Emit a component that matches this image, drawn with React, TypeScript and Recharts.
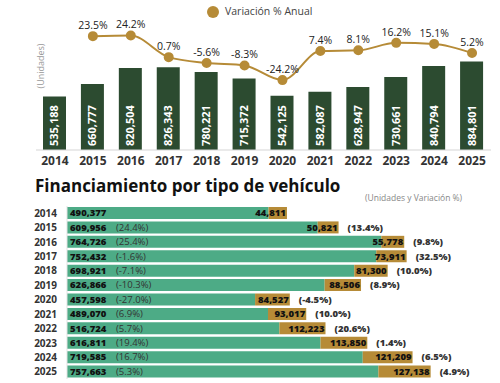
import React from 'react';
import { ComposedChart, BarChart, Bar, Line, XAxis, YAxis, LabelList } from 'recharts';

const years = ['2014', '2015', '2016', '2017', '2018', '2019', '2020', '2021', '2022', '2023', '2024', '2025'];
const totalUnits = [535188, 660777, 820504, 826343, 780221, 715372, 542125, 582087, 628947, 730661, 840794, 884801];
const totalVar = [null, 23.5, 24.2, 0.7, -5.6, -8.3, -24.2, 7.4, 8.1, 16.2, 15.1, 5.2];

const autos = [490377, 609956, 764726, 752432, 698921, 626866, 457598, 489070, 516724, 616811, 719585, 757663];
const autosVar = [null, '24.4%', '25.4%', '-1.6%', '-7.1%', '-10.3%', '-27.0%', '6.9%', '5.7%', '19.4%', '16.7%', '5.3%'];
const pesados = [44811, 50821, 55778, 73911, 81300, 88506, 84527, 93017, 112223, 113850, 121209, 127138];
const pesadosVar = [null, '13.4%', '9.8%', '32.5%', '10.0%', '8.9%', '-4.5%', '10.0%', '20.6%', '1.4%', '6.5%', '4.9%'];

const DARK = '#2c4b30';
const GREEN = '#4dab86';
const GOLD = '#b68b37';
const FONT = '"Open Sans", sans-serif';

const topData = years.map((y, i) => ({ year: y, units: totalUnits[i], pct: totalVar[i] }));
const bottomData = years.map((y, i) => ({
    year: y,
    autos: autos[i],
    autosVar: autosVar[i],
    pesados: pesados[i],
    pesadosVar: pesadosVar[i],
}));

const fmt = (v: number) => v.toLocaleString('en-US');

// value written vertically inside each column
const ColumnLabel = (props: any) => {
    const { x, y, width, height, value } = props;
    const cx = x + width / 2;
    const by = y + height - 4;
    return (
        <text x={cx} y={by} transform={`rotate(-90 ${cx} ${by})`} dy="0.36em" fill="#fff"
            fontSize={11} fontWeight={700} fontFamily={FONT} textAnchor="start">
            {fmt(value)}
        </text>
    );
};

const PctLabel = (props: any) => {
    const { x, y, value } = props;
    if (value === null || value === undefined) return null;
    return (
        <text x={x} y={y - 7} fill="#222" fontSize={10.5} fontFamily={FONT} textAnchor="middle">
            {value.toFixed(1)}%
        </text>
    );
};

const AutoLabel = (props: any) => {
    const { x, y, height, index } = props;
    const cy = y + height / 2;
    return (
        <g fontFamily={FONT} fontSize={9.5}>
            <text x={x + 3} y={cy} dy="0.35em" fill="#111" fontWeight={800}>{fmt(autos[index])}</text>
            {autosVar[index] && (
                <text x={116} y={cy} dy="0.35em" fill="#333">({autosVar[index]})</text>
            )}
        </g>
    );
};

const PesadoLabel = (props: any) => {
    const { x, y, width, height, index } = props;
    const cy = y + height / 2;
    const end = x + width;
    return (
        <g fontFamily={FONT} fontSize={9.5} fontWeight={800}>
            <text x={end - 1} y={cy} dy="0.35em" fill="#111" textAnchor="end">{fmt(pesados[index])}</text>
            {pesadosVar[index] && (
                <text x={end + 9} y={cy} dy="0.35em" fill="#333">({pesadosVar[index]})</text>
            )}
        </g>
    );
};

export default function App() {
    return (
        <div style={{ position: 'absolute', left: 0, top: 0, width: 500, height: 383, background: '#fff', fontFamily: FONT, overflow: 'hidden' }}>
            {/* legend */}
            <div style={{ position: 'absolute', left: 207, top: 6, width: 12, height: 12, borderRadius: 6, background: GOLD }} />
            <div style={{ position: 'absolute', left: 225, top: 4, fontSize: 10.5, color: '#444' }}>Variación % Anual</div>
            <div style={{ position: 'absolute', left: 40, top: 66, fontSize: 9, color: '#999', transform: 'translate(-50%, -50%) rotate(-90deg)', whiteSpace: 'nowrap' }}>
                (Unidades)
            </div>

            <div style={{ position: 'absolute', left: 0, top: 0 }}>
                <ComposedChart width={500} height={170} data={topData} margin={{ top: 20, right: 9, left: 36, bottom: 0 }}>
                    <XAxis dataKey="year" height={20} tickLine={false} tickMargin={0} axisLine={{ stroke: '#d5d5d5' }}
                        tick={{ fontSize: 12, fontWeight: 700, fill: '#333', fontFamily: FONT }} interval={0} />
                    <YAxis yAxisId="u" hide domain={[0, 1300000]} />
                    <YAxis yAxisId="p" hide domain={[-100, 41]} orientation="right" />
                    <Bar yAxisId="u" dataKey="units" fill={DARK} barSize={23} isAnimationActive={false}>
                        <LabelList dataKey="units" content={ColumnLabel} />
                    </Bar>
                    <Line yAxisId="p" dataKey="pct" type="monotone" stroke={GOLD} strokeWidth={2}
                        dot={{ r: 4, fill: GOLD, stroke: GOLD }} isAnimationActive={false}>
                        <LabelList dataKey="pct" content={PctLabel} />
                    </Line>
                </ComposedChart>
            </div>

            <div style={{ position: 'absolute', left: 35, top: 174, fontSize: 17, fontWeight: 700, color: '#111', whiteSpace: 'nowrap' }}>
                Financiamiento por tipo de vehículo
            </div>
            <div style={{ position: 'absolute', left: 365, top: 192, fontSize: 8.5, color: '#888', whiteSpace: 'nowrap' }}>
                (Unidades y Variación %)
            </div>

            <div style={{ position: 'absolute', left: 0, top: 200 }}>
                <BarChart width={500} height={183} data={bottomData} layout="vertical" barCategoryGap={1}
                    margin={{ top: 6, right: 22, left: 0, bottom: 4 }}>
                    <XAxis type="number" hide domain={[0, 1000000]} />
                    <YAxis type="category" dataKey="year" width={67} tickLine={false} tickSize={6} tickMargin={4}
                        axisLine={{ stroke: '#e2e2e2' }} interval={0}
                        tick={{ fontSize: 10, fontWeight: 700, fill: '#333', fontFamily: FONT }} />
                    <Bar dataKey="autos" stackId="a" fill={GREEN} isAnimationActive={false}>
                        <LabelList dataKey="autos" content={AutoLabel} />
                    </Bar>
                    <Bar dataKey="pesados" stackId="a" fill={GOLD} isAnimationActive={false}>
                        <LabelList dataKey="pesados" content={PesadoLabel} />
                    </Bar>
                </BarChart>
            </div>
        </div>
    );
}
